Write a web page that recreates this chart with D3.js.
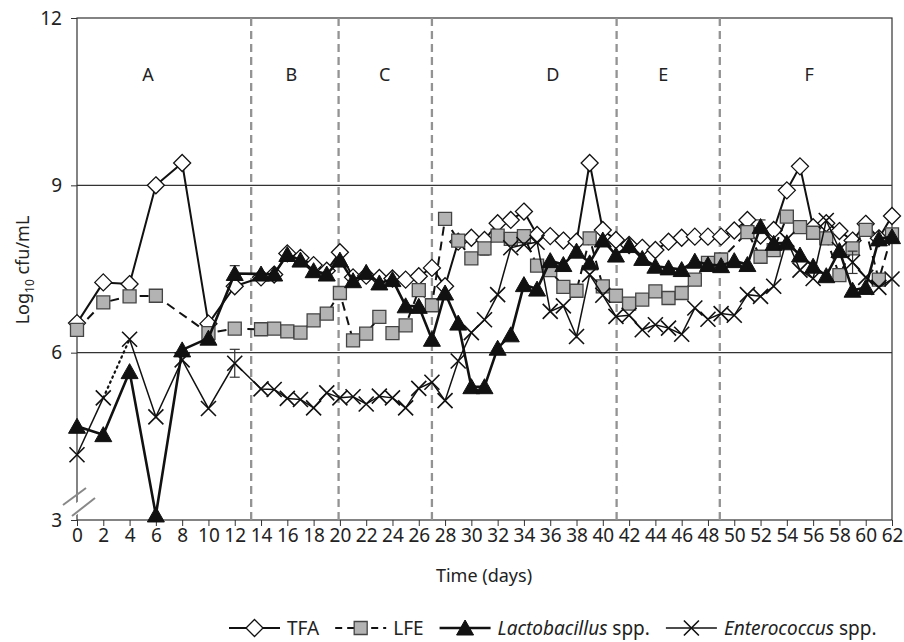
<!DOCTYPE html>
<html>
<head>
<meta charset="utf-8">
<script src="https://cdn.jsdelivr.net/npm/d3@7"></script>
<style>
  body { margin: 0; background: #fff }
  text { font-family: "Noto Sans", sans-serif; fill: #222 }
</style>
</head>
<body>
<svg id="chart" width="904" height="642"></svg>
<script>
// sampling days (every 2nd day in phase A, then daily)
const days = [0, 2, 4, 6, 8, 10, 12,
  14, 15, 16, 17, 18, 19, 20, 21, 22, 23, 24, 25, 26, 27, 28, 29, 30, 31, 32, 33, 34, 35, 36, 37, 38,
  39, 40, 41, 42, 43, 44, 45, 46, 47, 48, 49, 50, 51, 52, 53, 54, 55, 56, 57, 58, 59, 60, 61, 62];

const tfa = [6.53, 7.26, 7.23, 9.00, 9.40, 6.52, 7.19,
  7.35, 7.40, 7.78, 7.70, 7.57, 7.47, 7.80, 7.35, 7.38, 7.34, 7.33, 7.31, 7.37, 7.52, 7.19, 7.99, 8.06, 8.02, 8.32, 8.38, 8.53, 8.11, 8.09, 8.01, 7.99,
  9.40, 8.20, 8.02, 7.93, 7.88, 7.84, 7.99, 8.06, 8.08, 8.08, 8.08, 8.19, 8.38, 8.10, 8.20, 8.91, 9.34, 8.25, 8.32, 8.18, 8.01, 8.31, 8.05, 8.45];

const lfe = [6.41, 6.90, 7.01, 7.02, null, 6.35, 6.43,
  6.42, 6.43, 6.38, 6.36, 6.58, 6.70, 7.07, 6.22, 6.34, 6.64, 6.35, 6.49, 7.12, 6.85, 8.40, 8.01, 7.69, 7.87, 8.10, 8.04, 8.09, 7.56, 7.48, 7.18, 7.11,
  8.05, 7.19, 7.02, 6.88, 6.95, 7.10, 6.98, 7.07, 7.31, 7.61, 7.67, null, 8.16, 7.72, 7.84, 8.44, 8.25, 8.15, 8.05, 7.39, 7.87, 8.20, 7.31, 8.12];

const lacto = [4.68, 4.53, 5.66, 3.09, 6.05, 6.26, 7.42,
  7.41, 7.41, 7.76, 7.66, 7.47, 7.41, 7.66, 7.29, 7.44, 7.25, 7.31, 6.84, 6.83, 6.24, 7.07, 6.53, 5.39, 5.39, 6.08, 6.32, 7.22, 7.14, 7.65, 7.58, 7.82,
  7.61, 8.02, 7.75, 7.92, 7.69, 7.55, 7.52, 7.49, 7.64, 7.58, 7.56, 7.65, 7.58, 8.26, 7.96, 7.97, 7.75, 7.55, 7.38, 7.83, 7.12, 7.17, 8.04, 8.08];

const entero = [4.17, 5.19, 6.24, 4.85, 5.87, 5.00, 5.81,
  5.35, 5.34, 5.18, 5.16, 5.01, 5.28, 5.19, 5.21, 5.08, 5.22, 5.19, 5.01, 5.36, 5.47, 5.14, 5.85, 6.36, 6.59, 7.04, 7.88, 7.94, 7.98, 6.74, 6.84, 6.29,
  7.40, 7.03, 6.65, 6.67, 6.41, 6.50, 6.44, 6.33, 6.80, 6.60, 6.70, 6.67, 7.04, 7.01, 7.19, 8.03, 7.48, 7.33, 8.37, 7.85, 7.62, 7.35, 7.17, 7.32];

// a few visible error bars: [series, day, +, -]
const errBars = [["lacto", 12, 0.14, 0], ["entero", 12, 0.25, 0.25], ["lacto", 52, 0.12, 0],
  ["lfe", 31, 0, 0.12], ["entero", 59, 0.2, 0.2]];

const phaseBreaks = [13.25, 19.9, 27, 41.05, 48.9];
const phaseNames = ["A", "B", "C", "D", "E", "F"];
const phaseLabelDays = [5.4, 16.3, 23.4, 36.2, 44.6, 55.7];
const yTicks = [3, 6, 9, 12];
const xTicks = [0, 2, 4, 6, 8, 10, 12, 14, 16, 18, 20, 22, 24, 26, 28, 30,
  32, 34, 36, 38, 40, 42, 44, 46, 48, 50, 52, 54, 56, 58, 60, 62];

const svg = d3.select('#chart');
const x = d3.scaleLinear().domain([0, 62]).range([77, 892]);
const y = d3.scaleLinear().domain([3, 12]).range([520, 18]);

// grid lines + frame
svg.append('g').selectAll('line').data([6, 9]).join('line')
  .attr('x1', x(0)).attr('x2', x(62)).attr('y1', d => y(d)).attr('y2', d => y(d))
  .attr('stroke', '#333').attr('stroke-width', 1.2);
svg.append('rect').attr('x', x(0)).attr('y', y(12)).attr('width', x(62) - x(0)).attr('height', y(3) - y(12))
  .attr('fill', 'none').attr('stroke', '#333').attr('stroke-width', 1.2);

// phase separators
svg.append('g').selectAll('line').data(phaseBreaks).join('line')
  .attr('x1', d => x(d)).attr('x2', d => x(d)).attr('y1', y(12)).attr('y2', y(3))
  .attr('stroke', '#939393').attr('stroke-width', 2.3).attr('stroke-dasharray', '8,5');
svg.append('g').selectAll('text').data(phaseNames).join('text')
  .attr('x', (d, i) => x(phaseLabelDays[i])).attr('y', 81)
  .attr('text-anchor', 'middle').attr('font-size', 18).text(d => d);

// axes
const xAxis = svg.append('g').attr('transform', `translate(0,${y(3)})`)
  .call(d3.axisBottom(x).tickValues(xTicks).tickSize(6).tickPadding(3));
xAxis.select('.domain').remove();
xAxis.selectAll('line').attr('stroke', '#333');
xAxis.selectAll('text').attr('font-size', 19).attr('font-family', '"Noto Sans", sans-serif').attr('fill', '#222');
const yAxis = svg.append('g').attr('transform', `translate(${x(0)},0)`)
  .call(d3.axisLeft(y).tickValues(yTicks).tickSize(6).tickPadding(9));
yAxis.select('.domain').remove();
yAxis.selectAll('line').attr('stroke', '#333');
yAxis.selectAll('text').attr('font-size', 19).attr('font-family', '"Noto Sans", sans-serif').attr('fill', '#222');

// axis break
svg.append('path').attr('d', 'M66,510 L92,492 L98,500 L72,518 Z').attr('fill', '#fff');
svg.append('g').selectAll('line').data([[63, 505, 86, 488], [72, 516, 95, 498]]).join('line')
  .attr('x1', d => d[0]).attr('y1', d => d[1]).attr('x2', d => d[2]).attr('y2', d => d[3])
  .attr('stroke', '#888').attr('stroke-width', 2);

// titles
svg.append('text').attr('x', 484).attr('y', 582).attr('text-anchor', 'middle').attr('font-size', 18).text('Time (days)');
const yt = svg.append('text').attr('transform', 'translate(29,270) rotate(-90)').attr('text-anchor', 'middle').attr('font-size', 18);
yt.append('tspan').text('Log');
yt.append('tspan').attr('font-size', 12).attr('dy', 5).text('10');
yt.append('tspan').attr('dy', -5).text(' cfu/mL');

// markers
const mk = {
  diamond: 'M0,-8.5L8.5,0L0,8.5L-8.5,0Z',
  square: 'M-6.5,-6.5H6.5V6.5H-6.5Z',
  triangle: 'M0,-8L8.5,7L-8.5,7Z',
  cross: 'M-7.5,-7.5L7.5,7.5M7.5,-7.5L-7.5,7.5'
};
const series = [
  { key: 'tfa', vals: tfa, w: 2, dash: null, marker: 'diamond', fill: '#fff', stroke: '#111', mw: 1.3 },
  { key: 'lfe', vals: lfe, w: 2, dash: '9,6', marker: 'square', fill: '#b3b3b3', stroke: '#444', mw: 1.3 },
  { key: 'lacto', vals: lacto, w: 2.6, dash: null, marker: 'triangle', fill: '#111', stroke: '#111', mw: 1 },
  { key: 'entero', vals: entero, w: 1.5, dash: null, marker: 'cross', fill: 'none', stroke: '#111', mw: 1.6 }
];
const line = d3.line().x(d => x(d[0])).y(d => y(d[1]));

series.forEach(s => {
  const pts = days.map((d, i) => [d, s.vals[i]]).filter(p => p[1] != null);
  const g = svg.append('g');
  if (s.key === 'entero') {
    // day 2 -> 4 segment is dotted in the source
    g.append('path').attr('d', line(pts.slice(0, 2))).attr('fill', 'none').attr('stroke', '#111').attr('stroke-width', s.w);
    g.append('path').attr('d', line(pts.slice(1, 3))).attr('fill', 'none').attr('stroke', '#111')
      .attr('stroke-width', 2.2).attr('stroke-dasharray', '1.5,4').attr('stroke-linecap', 'round');
    g.append('path').attr('d', line(pts.slice(2))).attr('fill', 'none').attr('stroke', '#111').attr('stroke-width', s.w);
  } else {
    g.append('path').attr('d', line(pts)).attr('fill', 'none').attr('stroke', '#111')
      .attr('stroke-width', s.w).attr('stroke-dasharray', s.dash).attr('stroke-linejoin', 'round');
  }
  errBars.filter(e => e[0] === s.key).forEach(e => {
    const v = s.vals[days.indexOf(e[1])];
    const cx = x(e[1]);
    g.append('line').attr('x1', cx).attr('x2', cx).attr('y1', y(v + e[2])).attr('y2', y(v - e[3])).attr('stroke', '#333').attr('stroke-width', 1.2);
    [e[2] ? v + e[2] : null, e[3] ? v - e[3] : null].filter(c => c != null).forEach(c => {
      g.append('line').attr('x1', cx - 5).attr('x2', cx + 5).attr('y1', y(c)).attr('y2', y(c)).attr('stroke', '#333').attr('stroke-width', 1.2);
    });
  });
  g.selectAll('path.m').data(pts).join('path').attr('class', 'm')
    .attr('d', mk[s.marker]).attr('transform', d => `translate(${x(d[0])},${y(d[1])})`)
    .attr('fill', s.fill).attr('stroke', s.stroke).attr('stroke-width', s.mw);
});

// legend
const legItems = [
  { s: series[0], label: ['TFA'] },
  { s: series[1], label: ['LFE'] },
  { s: series[2], label: ['Lactobacillus', ' spp.'] },
  { s: series[3], label: ['Enterococcus', ' spp.'] }
];
const ly = 628;
let lx = 229;
legItems.forEach(it => {
  const g = svg.append('g');
  g.append('line').attr('x1', lx).attr('x2', lx + 51).attr('y1', ly).attr('y2', ly)
    .attr('stroke', '#111').attr('stroke-width', it.s.key === 'lacto' ? 2.4 : (it.s.key === 'entero' ? 1.6 : 2))
    .attr('stroke-dasharray', it.s.dash ? '7,5' : null);
  g.append('path').attr('d', mk[it.s.marker]).attr('transform', `translate(${lx + 25.5},${ly})`)
    .attr('fill', it.s.fill).attr('stroke', it.s.stroke).attr('stroke-width', it.s.mw);
  const t = g.append('text').attr('x', lx + 58).attr('y', ly + 6.5).attr('font-size', 19);
  t.append('tspan').attr('font-style', it.label.length > 1 ? 'italic' : null).text(it.label[0]);
  if (it.label.length > 1) t.append('tspan').text(it.label[1]);
  lx += 58 + t.node().getComputedTextLength() + 16;
});
</script>
</body>
</html>
